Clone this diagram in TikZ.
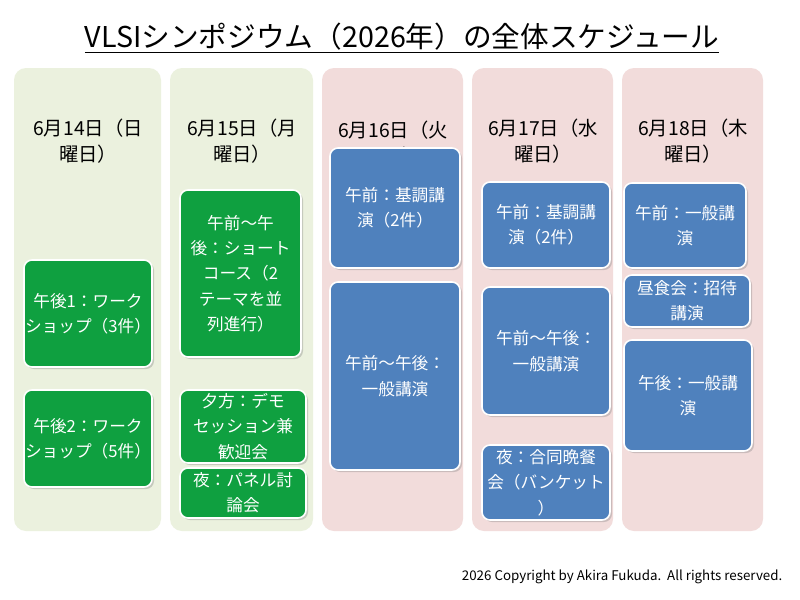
\documentclass[tikz,border=0pt]{standalone}
\usepackage{fontspec}
\setmainfont{Noto Sans CJK JP}
\usetikzlibrary{shadows}
\definecolor{gbg}{HTML}{EBF1DE}
\definecolor{pbg}{HTML}{F2DCDB}
\definecolor{gbox}{HTML}{0FA040}
\definecolor{bbox}{HTML}{4F81BD}
\begin{document}
\begin{tikzpicture}[x=0.75pt,y=-0.75pt,
  col/.style={rounded corners=9pt,draw=none},
  hd/.style={font=\fontsize{14.5}{20}\selectfont,align=center,anchor=north},
  bx/.style={rounded corners=6pt,draw=white,line width=1.2pt,text=white,align=center,
    font=\fontsize{12.5}{19}\selectfont,drop shadow={opacity=0.35,shadow xshift=1.5pt,shadow yshift=-1.5pt}},
  gb/.style={bx,fill=gbox},
  bb/.style={bx,fill=bbox}]
\useasboundingbox (0,0) rectangle (800,600);
\fill[white] (0,0) rectangle (800,600);
\node[font=\fontsize{21.5}{26}\selectfont,anchor=center] (title) at (402,38) {\underline{VLSIシンポジウム（2026年）の全体スケジュール}};
% columns
\fill[col,gbg] (14,68) rectangle (161,531);
\fill[col,gbg] (170,68) rectangle (313,531);
\fill[col,pbg] (322,68) rectangle (463,531);
\fill[col,pbg] (472,68) rectangle (613,531);
\fill[col,pbg] (622,68) rectangle (763,531);
% headers
\node[hd] (h1) at (88,114) {6月14日（日\\曜日）};
\node[hd] (h2) at (242,114) {6月15日（月\\曜日）};
\node[hd] (h3) at (393,116) {6月16日（火\\曜日）};
\node[hd] (h4) at (543,114) {6月17日（水\\曜日）};
\node[hd] (h5) at (693,114) {6月18日（木\\曜日）};
% column 1
\draw[gb] (24,260) rectangle (152,367) node[midway] (a1) {午後1：ワーク\\ショップ（3件）};
\draw[gb] (24,390) rectangle (152,487) node[midway] (a2) {午後2：ワーク\\ショップ（5件）};
% column 2
\draw[gb] (180,190) rectangle (301,357) node[midway] (b1) {午前～午\\後：ショート\\コース（2\\テーマを並\\列進行）};
\draw[gb] (180,390) rectangle (306,463) node[midway] (b2) {夕方：デモ\\セッション兼\\歓迎会};
\draw[gb] (180,468) rectangle (306,518) node[midway] (b3) {夜：パネル討\\論会};
% column 3
\draw[bb] (330,148) rectangle (460,268) node[midway] (c1) {午前：基調講\\演（2件）};
\draw[bb] (330,282) rectangle (460,470) node[midway] (c2) {午前～午後：\\一般講演};
% column 4
\draw[bb] (482,182) rectangle (610,268) node[midway] (d1) {午前：基調講\\演（2件）};
\draw[bb] (482,287) rectangle (610,415) node[midway] (d2) {午前～午後：\\一般講演};
\draw[bb] (482,445) rectangle (610,520) node[midway] (d3) {夜：合同晩餐\\会（バンケット\\）};
% column 5
\draw[bb] (624,183) rectangle (746,268) node[midway] (e1) {午前：一般講\\演};
\draw[bb] (624,275) rectangle (750,327) node[midway] (e2) {昼食会：招待\\講演};
\draw[bb] (624,340) rectangle (752,451) node[midway] (e3) {午後：一般講\\演};
\node[font=\fontsize{10}{12}\selectfont,anchor=east] (copy) at (787,577) {2026 Copyright by Akira Fukuda.\ \ All rights reserved.};
\end{tikzpicture}
\end{document}
